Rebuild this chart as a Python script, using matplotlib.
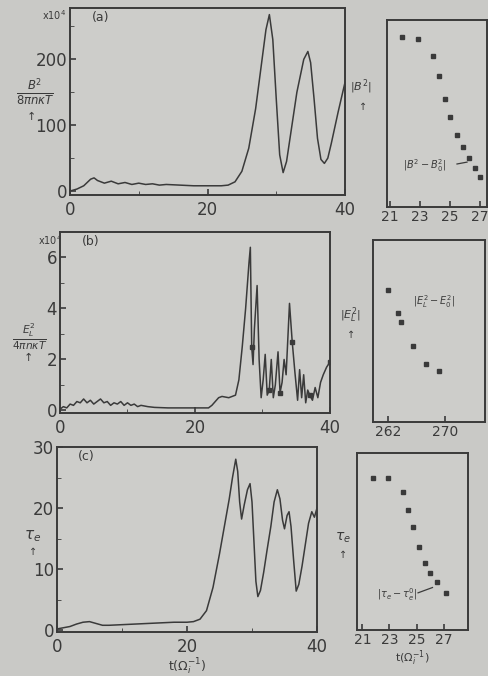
import matplotlib
matplotlib.use("Agg")
import matplotlib.pyplot as plt
from matplotlib.ticker import FixedLocator

W, H = 489, 676
paper = "#c9c9c6"
ink = "#3a3a3a"

# (a) magnetic energy, units of 1e4
t_a = [0, 1, 2, 3, 3.5, 4, 5, 6, 7, 8, 9, 10, 11, 12, 13, 14, 16, 18, 20, 22, 23, 24,
       25, 26, 27, 28, 28.5, 29, 29.5, 30, 30.5, 31, 31.5, 32, 33, 34, 34.6, 35, 35.5,
       36, 36.5, 37, 37.5, 38, 39, 40]
B_a = [0, 3, 8, 18, 20, 16, 12, 15, 11, 13, 10, 12, 10, 11, 9, 10, 9, 8, 8, 8, 9, 14,
       30, 65, 125, 205, 245, 268, 230, 140, 55, 28, 45, 80, 150, 200, 212, 195, 140,
       80, 48, 42, 50, 72, 120, 165]

# (b) electric field energy, units of 1e4
t_b = [0, 0.5, 1, 1.5, 2, 2.5, 3, 3.5, 4, 4.5, 5, 5.5, 6, 6.5, 7, 7.5, 8, 8.5, 9, 9.5,
       10, 10.5, 11, 11.5, 12, 13, 14, 16, 18, 20, 22, 22.5, 23, 23.5, 24, 25, 26, 26.5,
       27, 27.5, 28, 28.2, 28.4, 28.6, 28.8, 29.2, 29.5, 29.8, 30.1, 30.4, 30.7, 31.0,
       31.3, 31.6, 31.9, 32.3, 32.6, 32.9, 33.2, 33.5, 34.0, 34.4, 34.8, 35.2, 35.5,
       35.8, 36.1, 36.4, 36.7, 37.0, 37.4, 37.8, 38.2, 38.6, 39.0, 39.5, 40]
E_b = [0.05, 0.15, 0.1, 0.25, 0.2, 0.35, 0.3, 0.45, 0.3, 0.4, 0.25, 0.35, 0.45, 0.3,
       0.35, 0.2, 0.3, 0.25, 0.35, 0.2, 0.3, 0.2, 0.25, 0.15, 0.2, 0.15, 0.12, 0.1, 0.1,
       0.1, 0.1, 0.2, 0.35, 0.5, 0.55, 0.5, 0.6, 1.2, 2.5, 4.0, 5.8, 6.4, 2.5, 1.8, 3.2,
       4.9, 2.0, 0.5, 1.2, 2.2, 0.6, 0.8, 2.0, 0.5, 1.0, 2.3, 0.7, 1.1, 2.0, 1.4, 4.2,
       2.7, 1.5, 0.4, 1.6, 0.5, 1.4, 0.3, 0.8, 0.6, 0.4, 0.9, 0.5, 1.1, 1.4, 1.7, 1.9]
mark_tb = [28.4, 31.0, 32.6, 34.4, 37.0, 40]
mark_Eb = [2.5, 0.8, 0.7, 2.7, 0.6, 1.9]

# (c) electron temperature
t_c = [0, 1, 2, 3, 4, 5, 6, 7, 8, 10, 12, 14, 16, 18, 20, 21, 22, 23, 24, 25, 26,
       26.5, 27, 27.5, 27.8, 28.1, 28.4, 28.8, 29.3, 29.7, 30.0, 30.3, 30.6, 30.9,
       31.3, 31.8, 32.3, 32.9, 33.4, 33.9, 34.3, 34.7, 35.0, 35.4, 35.7, 36.0, 36.4,
       36.8, 37.2, 37.7, 38.2, 38.7, 39.2, 39.6, 40]
T_c = [0.2, 0.4, 0.6, 1.0, 1.3, 1.4, 1.1, 0.8, 0.8, 0.9, 1.0, 1.1, 1.2, 1.3, 1.3, 1.4,
       1.8, 3.2, 7.0, 12.5, 18.5, 21.5, 25.0, 28.0, 26.0, 21.0, 18.2, 20.5, 23.0, 24.0,
       21.0, 14.5, 8.0, 5.5, 6.5, 9.5, 13.0, 17.0, 21.0, 23.0, 21.5, 18.0, 16.6, 18.8,
       19.4, 17.0, 11.5, 6.4, 7.5, 10.5, 14.0, 17.5, 19.4, 18.5, 20.0]

# return-map style side panels (normalised heights)
xa_r = [21.8, 22.9, 23.9, 24.3, 24.7, 25.0, 25.5, 25.9, 26.3, 26.7, 27.0]
ya_r = [0.91, 0.90, 0.81, 0.70, 0.58, 0.48, 0.385, 0.32, 0.26, 0.21, 0.16]
xb_r = [262.0, 263.4, 263.8, 265.5, 267.3, 269.1]
yb_r = [0.725, 0.60, 0.55, 0.42, 0.32, 0.28]
xc_r = [21.8, 22.9, 24.0, 24.4, 24.75, 25.2, 25.6, 26.0, 26.5, 27.2]
yc_r = [0.86, 0.86, 0.78, 0.68, 0.58, 0.47, 0.38, 0.32, 0.27, 0.21]

fig = plt.figure(figsize=(W / 100, H / 100), dpi=100, facecolor=paper)


def px_axes(x0, y0, x1, y1):
    ax = fig.add_axes([x0 / W, 1 - y1 / H, (x1 - x0) / W, (y1 - y0) / H])
    ax.set_facecolor("#cdcdca")
    for s in ax.spines.values():
        s.set_color(ink)
        s.set_linewidth(1.4)
    ax.tick_params(direction="in", colors=ink, labelcolor=ink, length=4, width=1.2)
    return ax


def left_panel(ax, t, y, ylim, yticks, yminor, tag):
    ax.plot(t, y, color=ink, lw=1.1)
    ax.set_xlim(0, 40)
    ax.set_ylim(*ylim)
    ax.set_xticks([0, 20, 40])
    ax.xaxis.set_minor_locator(FixedLocator([10, 30]))
    ax.set_yticks(yticks)
    ax.yaxis.set_minor_locator(FixedLocator(yminor))
    ax.tick_params(axis="y", labelsize=12, pad=2)
    ax.tick_params(axis="x", labelsize=12, pad=4)
    ax.tick_params(which="minor", direction="in", length=3, color=ink)
    ax.text(0.08, 0.93, tag, transform=ax.transAxes, fontsize=9, color=ink)


def right_panel(ax, x, y, xlim, xticks):
    ax.plot(x, y, ls="none", marker="s", ms=2.2, color=ink)
    ax.set_xlim(*xlim)
    ax.set_ylim(0, 1)
    ax.set_xticks(xticks)
    ax.set_yticks([])
    ax.tick_params(axis="x", labelsize=10, pad=2)


# panel (a)
ax = px_axes(70, 8, 345, 195)
left_panel(ax, t_a, B_a, (-6, 278), [0, 100, 200], [50, 150, 250], "(a)")
fig.text(35 / W, 1 - 92 / H, r"$\frac{B^2}{8\pi n\kappa T}$", fontsize=12, color=ink,
         ha="center", va="center")
fig.text(31 / W, 1 - 117 / H, "↑", fontsize=8, color=ink, ha="center", va="center")
fig.text(54 / W, 1 - 15 / H, r"x10$^4$", fontsize=7, color=ink, ha="center", va="center")

ax = px_axes(387, 20, 487, 207)
right_panel(ax, xa_r, ya_r, (20.8, 27.5), [21, 23, 25, 27])
ax.text(0.16, 0.22, r"$|B^2-B_0^2|$", transform=ax.transAxes, fontsize=7, color=ink,
        va="center")
ax.plot([0.7, 0.8], [0.23, 0.24], transform=ax.transAxes, color=ink, lw=0.9)
fig.text(361 / W, 1 - 87 / H, r"$|B^2|$", fontsize=8, color=ink, ha="center", va="center")
fig.text(363 / W, 1 - 107 / H, "↑", fontsize=7, color=ink, ha="center", va="center")

# panel (b)
ax = px_axes(60, 232, 330, 413)
left_panel(ax, t_b, E_b, (-0.1, 7.0), [0, 2, 4, 6], [1, 3, 5], "(b)")
ax.plot(mark_tb, mark_Eb, ls="none", marker="s", ms=2.5, color=ink)
fig.text(30 / W, 1 - 337 / H, r"$\frac{E_L^2}{4\pi n\kappa T}$", fontsize=11, color=ink,
         ha="center", va="center")
fig.text(28 / W, 1 - 358 / H, "↑", fontsize=8, color=ink, ha="center", va="center")
fig.text(50 / W, 1 - 240 / H, r"x10$^4$", fontsize=7, color=ink, ha="center", va="center")

ax = px_axes(373, 240, 485, 422)
right_panel(ax, xb_r, yb_r, (259.9, 275.6), [262, 270])
ax.text(0.36, 0.66, r"$|E_L^2-E_0^2|$", transform=ax.transAxes, fontsize=7, color=ink,
        va="center")
fig.text(351 / W, 1 - 315 / H, r"$|E_L^2|$", fontsize=8, color=ink, ha="center", va="center")
fig.text(351 / W, 1 - 335 / H, "↑", fontsize=7, color=ink, ha="center", va="center")

# panel (c)
ax = px_axes(57, 447, 317, 632)
left_panel(ax, t_c, T_c, (-0.3, 30), [0, 10, 20, 30], [5, 15, 25], "(c)")
ax.set_xlabel(r"t($\Omega_i^{-1}$)", fontsize=9, color=ink, labelpad=1)
fig.text(33 / W, 1 - 536 / H, r"$\tau_e$", fontsize=11, color=ink, ha="center", va="center")
fig.text(33 / W, 1 - 552 / H, "↑", fontsize=7, color=ink, ha="center", va="center")

ax = px_axes(357, 453, 468, 630)
right_panel(ax, xc_r, yc_r, (20.6, 28.8), [21, 23, 25, 27])
ax.text(0.18, 0.2, r"$|\tau_e-\tau_e^0|$", transform=ax.transAxes, fontsize=7, color=ink,
        va="center")
ax.plot([0.55, 0.68], [0.21, 0.24], transform=ax.transAxes, color=ink, lw=0.9)
ax.set_xlabel(r"t($\Omega_i^{-1}$)", fontsize=8, color=ink, labelpad=1)
fig.text(343 / W, 1 - 538 / H, r"$\tau_e$", fontsize=10, color=ink, ha="center", va="center")
fig.text(343 / W, 1 - 555 / H, "↑", fontsize=7, color=ink, ha="center", va="center")

fig.savefig("out.png", dpi=100, facecolor=paper)
